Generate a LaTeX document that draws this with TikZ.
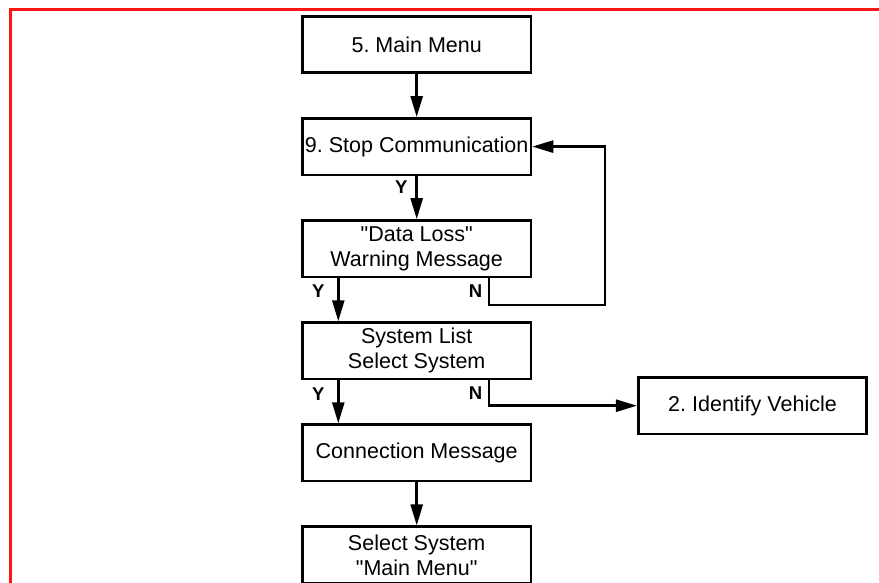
\documentclass[tikz,border=0pt]{standalone}
\usepackage{fontspec}
\setmainfont{Liberation Sans}
\usepackage{tikz}
\usetikzlibrary{arrows.meta, positioning, calc}
\definecolor{FR_RED}{HTML}{FF1414}
\frenchspacing
\tikzset{
  menu/.style={
    rectangle,
    minimum width=228.5pt, minimum height=56.5pt,
    inner sep=2pt, text centered, align=center,
    draw=black, line width=2.6pt, font=\fontsize{21.5}{25}\selectfont},
  yn/.style={font=\fontsize{18.5}{20}\selectfont\bfseries, inner sep=0pt},
  arr/.style={-{Triangle[length=21pt,width=12pt]}, line width=2.5pt, color=black},
}
\begin{document}
\begin{tikzpicture}[x=1pt, y=-1pt, node distance=43pt]
  \useasboundingbox (0,0) rectangle (879,583);
  \clip (0,0) rectangle (879,583);
  \draw[FR_RED, line width=3pt] (10.5,9.5) rectangle (900,620);

  \node[menu] (mainmenu) at (416.7,44.5) {5. Main Menu};

  \node[menu, below=of mainmenu] (stop) {9. Stop Communication};

  \node[menu, below=of stop] (warn) {\textquotedbl Data Loss\textquotedbl\\Warning Message};

  \node[menu, below=of warn] (syslist) {System List\\Select System};

  \node[menu, right=104.7pt of syslist, yshift=-54.9pt] (ident) {2. Identify Vehicle};

  \node[menu, below=of syslist] (conn) {Connection Message};

  \node[menu, below=of conn] (selmenu) {Select System\\\textquotedbl Main Menu\textquotedbl};

  \coordinate (loopR) at ([xshift=72.7pt,yshift=-26.5pt]warn.south east);

  \draw[arr] (mainmenu) -- (stop);
  \draw[arr] (stop) -- node[yn, left=8pt, pos=0.25] (ystop) {Y} (warn);
  \draw[arr] ([xshift=-78.4pt]warn.south)
    -- node[yn, left=12.5pt, pos=0.3] (ywarn) {Y} ([xshift=-78.4pt]syslist.north);
  \draw[arr] ([xshift=72.3pt]warn.south)
    |- node[yn, left=5.5pt, pos=0.25] (nwarn) {N} (loopR) |- (stop.east);
  \draw[arr] ([xshift=-78.4pt]syslist.south)
    -- node[yn, left=12.5pt, pos=0.32] (ylist) {Y} ([xshift=-78.4pt]conn.north);
  \draw[arr] ([xshift=72.3pt]syslist.south)
    |- node[yn, left=5.5pt, pos=0.25] (nlist) {N} (ident.west);
  \draw[arr] (conn) -- (selmenu);

\end{tikzpicture}
\end{document}
